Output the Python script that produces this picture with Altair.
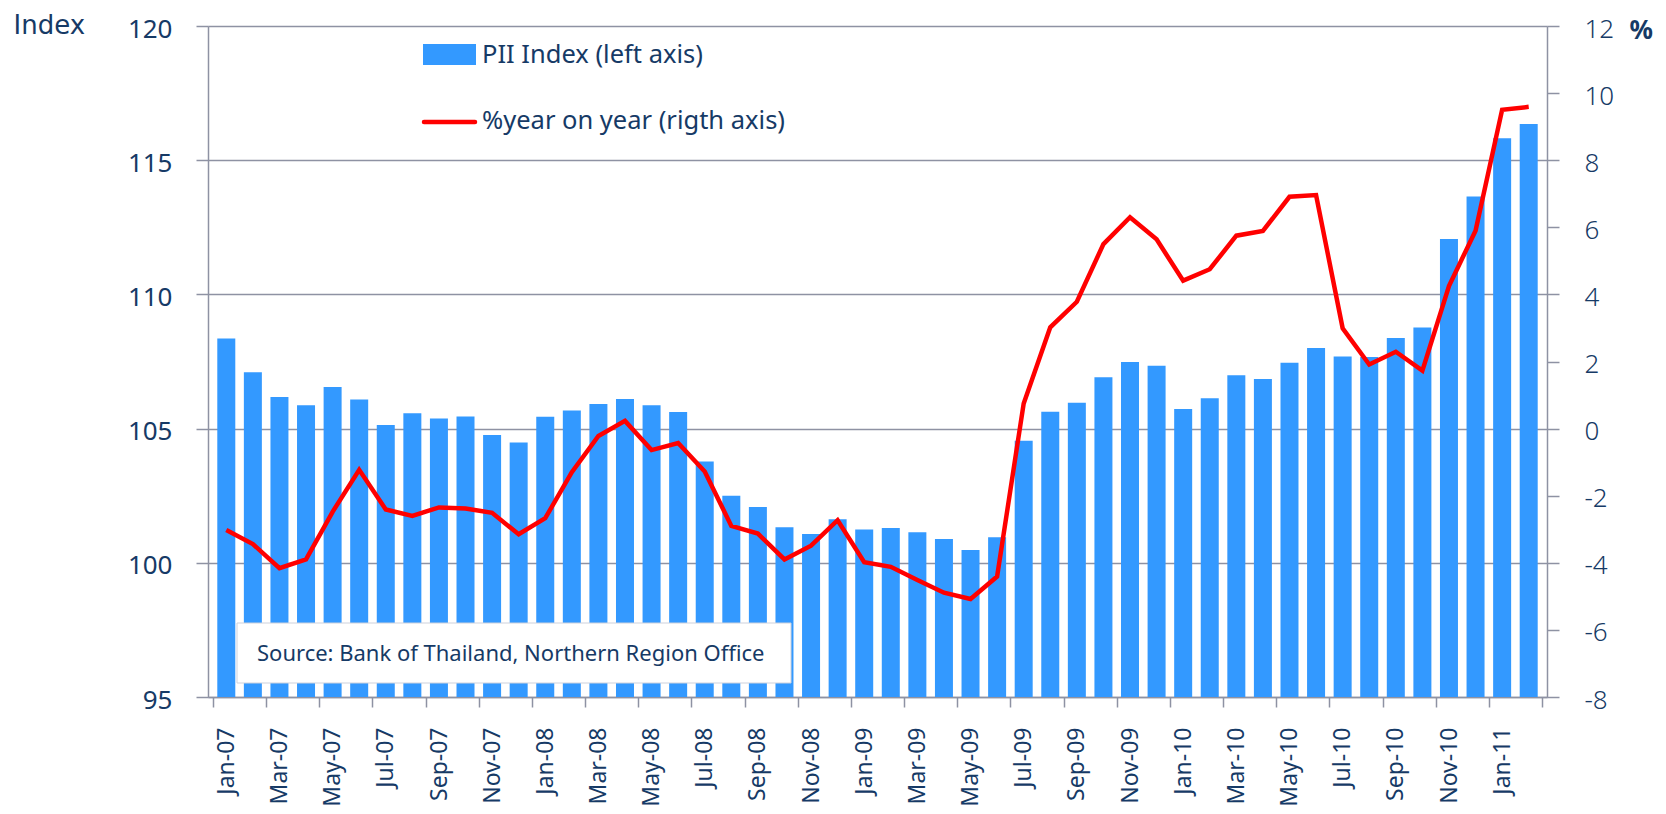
import altair as alt
import pandas as pd

months = [
    "Jan-07", "Feb-07", "Mar-07", "Apr-07", "May-07", "Jun-07", "Jul-07", "Aug-07", "Sep-07", "Oct-07", "Nov-07", "Dec-07",
    "Jan-08", "Feb-08", "Mar-08", "Apr-08", "May-08", "Jun-08", "Jul-08", "Aug-08", "Sep-08", "Oct-08", "Nov-08", "Dec-08",
    "Jan-09", "Feb-09", "Mar-09", "Apr-09", "May-09", "Jun-09", "Jul-09", "Aug-09", "Sep-09", "Oct-09", "Nov-09", "Dec-09",
    "Jan-10", "Feb-10", "Mar-10", "Apr-10", "May-10", "Jun-10", "Jul-10", "Aug-10", "Sep-10", "Oct-10", "Nov-10", "Dec-10",
    "Jan-11", "Feb-11",
]

pii_index = [
    108.36, 107.10, 106.18, 105.87, 106.55, 106.08, 105.13, 105.57, 105.38, 105.45, 104.76, 104.48,
    105.44, 105.67, 105.92, 106.10, 105.87, 105.62, 103.77, 102.50, 102.08, 101.32, 101.07, 101.62,
    101.24, 101.30, 101.14, 100.89, 100.48, 100.95, 104.55, 105.63, 105.96, 106.91, 107.48, 107.34,
    105.73, 106.13, 106.99, 106.85, 107.45, 108.00, 107.69, 107.67, 108.38, 108.77, 112.06, 113.65,
    115.82, 116.35,
]

yoy_pct = [
    -3.02, -3.44, -4.16, -3.90, -2.48, -1.23, -2.41, -2.60, -2.35, -2.38, -2.51, -3.15,
    -2.67, -1.30, -0.22, 0.23, -0.64, -0.43, -1.28, -2.90, -3.13, -3.90, -3.49, -2.73,
    -3.98, -4.12, -4.51, -4.89, -5.08, -4.41, 0.75, 3.02, 3.78, 5.50, 6.30, 5.64,
    4.41, 4.75, 5.75, 5.89, 6.91, 6.96, 2.99, 1.91, 2.29, 1.73, 4.25, 5.90,
    9.50, 9.59,
]

left_ticks = [95, 100, 105, 110, 115, 120]
right_ticks = [-8, -6, -4, -2, 0, 2, 4, 6, 8, 10, 12]

legend_bar = "PII Index (left axis)"
legend_line = "%year on year (rigth axis)"
source_note = "Source: Bank of Thailand, Northern Region Office"

df = pd.DataFrame({"idx": list(range(len(months))), "month": months,
                   "pii": pii_index, "yoy": yoy_pct})

FONT = "Noto Sans"
TXT = "#163A66"
GRID = "#8E92A3"
BLUE = "#3399FF"
RED = "#FF0000"
W, H = 1339, 671
n = len(months)
step = W / n

tick_vals = [i - 0.5 for i in range(0, n + 1, 2)]
label_list = [months[i] if i < n else "" for i in range(0, n + 1, 2)]
label_expr = "[" + ",".join("'%s'" % s for s in label_list) + "][round((datum.value + 0.5) / 2)]"

x_enc = alt.X(
    "idx:Q",
    scale=alt.Scale(domain=[-0.5, n - 0.5], nice=False, zero=False),
    axis=alt.Axis(
        values=tick_vals, labelExpr=label_expr, labelAngle=270, labelAlign="right",
        labelBaseline="middle", labelOffset=step / 2, labelPadding=20, tickSize=10,
        tickColor=GRID, tickWidth=1.5, domainColor=GRID, domainWidth=1.5, grid=False,
        title=None, labelFontSize=23, labelColor=TXT, labelFont=FONT,
        labelOverlap=False, labelFlush=False,
    ),
)

base = alt.Chart(df)

bars = base.mark_bar(width=18, color=BLUE, clip=True).encode(
    x=x_enc,
    y=alt.Y(
        "pii:Q",
        scale=alt.Scale(domain=[95, 120], nice=False, zero=False),
        axis=alt.Axis(
            orient="left", values=left_ticks, grid=True, gridColor=GRID, gridWidth=1.5,
            tickSize=12, tickColor=GRID, tickWidth=1.5, domainColor=GRID, domainWidth=1.5,
            labelFontSize=26, labelFont=FONT, labelColor=TXT, labelPadding=24, labelOffset=3,
            title="Index", titleAngle=0, titleAlign="left", titleBaseline="alphabetic",
            titleX=-195, titleY=7, titleFontSize=26, titleFont="DejaVu Sans",
            titleFontWeight="normal", titleColor=TXT,
        ),
    ),
)

line = base.mark_line(color=RED, strokeWidth=4.5).encode(
    x=x_enc,
    y=alt.Y(
        "yoy:Q",
        scale=alt.Scale(domain=[-8, 12], nice=False, zero=False),
        axis=alt.Axis(
            orient="right", values=right_ticks, grid=False,
            tickSize=12, tickColor=GRID, tickWidth=1.5, domainColor=GRID, domainWidth=1.5,
            labelFontSize=26, labelFont=FONT, labelColor=TXT, labelPadding=25, labelOffset=3,
            labelFontWeight=300, labelExpr="'' + datum.value",
            title="%", titleAngle=0, titleAlign="left", titleBaseline="middle",
            titleX=82, titleY=4, titleFontSize=26, titleFont=FONT,
            titleFontWeight="bold", titleColor=TXT,
        ),
    ),
)

note_df = pd.DataFrame({"t": [source_note]})
box = alt.Chart(note_df).mark_rect(fill="white", stroke="#CDD1DC", strokeWidth=1).encode(
    x=alt.value(29), x2=alt.value(583), y=alt.value(597), y2=alt.value(657)
)
box_text = alt.Chart(note_df).mark_text(
    align="left", baseline="middle", fontSize=22, font=FONT, color=TXT
).encode(x=alt.value(49), y=alt.value(628), text="t:N")

leg_df = pd.DataFrame({"a": [legend_bar], "b": [legend_line]})
leg_rect = alt.Chart(leg_df).mark_rect(color=BLUE).encode(
    x=alt.value(215), x2=alt.value(268), y=alt.value(18), y2=alt.value(39)
)
leg_t1 = alt.Chart(leg_df).mark_text(
    align="left", baseline="middle", fontSize=25.5, font=FONT, color=TXT
).encode(x=alt.value(274), y=alt.value(29), text="a:N")
leg_rule = alt.Chart(leg_df).mark_rule(color=RED, strokeWidth=4.5, strokeCap="round").encode(
    x=alt.value(216), x2=alt.value(267), y=alt.value(96)
)
leg_t2 = alt.Chart(leg_df).mark_text(
    align="left", baseline="middle", fontSize=25.5, font=FONT, color=TXT
).encode(x=alt.value(274), y=alt.value(95), text="b:N")

chart = alt.layer(
    bars, box, box_text, line, leg_rect, leg_t1, leg_rule, leg_t2
).resolve_scale(y="independent").properties(
    width=W, height=H, autosize="none",
    padding={"left": 200, "top": 18, "right": 110, "bottom": 109},
).configure_view(stroke=None).configure(font=FONT, background="white")

chart.save("out.html", embed_options={"renderer": "svg", "actions": False})
